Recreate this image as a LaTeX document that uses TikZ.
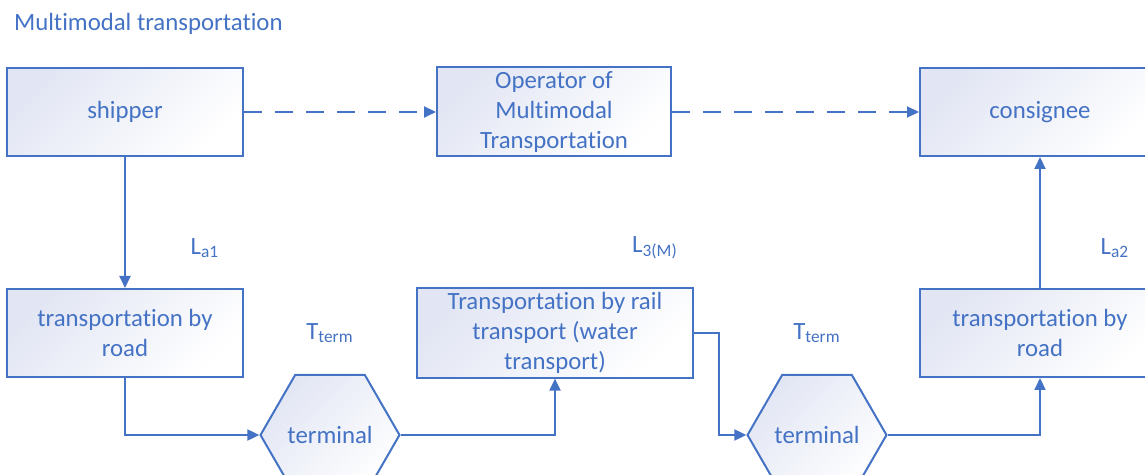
\documentclass[tikz,border=0pt]{standalone}
\usepackage{fontspec}
\setmainfont{Carlito}[Ligatures=NoCommon]
\usetikzlibrary{arrows.meta,shapes.geometric}
\definecolor{mmblue}{HTML}{4472C4}
\definecolor{mmfill}{HTML}{E2E6F4}

\begin{document}
\begin{tikzpicture}[x=0.5pt, y=-0.5pt,
    every node/.style={text=mmblue, font=\fontsize{12.4}{15}\selectfont},
    box/.style={draw=mmblue, line width=1pt, top color=mmfill, bottom color=white, shading angle=45, align=center, minimum height=44pt, inner sep=2pt},
    hexa/.style={draw=mmblue, line width=1pt, regular polygon, regular polygon sides=6, minimum size=68pt, inner sep=0pt, top color=mmfill, bottom color=white, shading angle=45},
    flow/.style={draw=mmblue, line width=1pt, -{Triangle[length=6pt, width=5.5pt]}},
    plan/.style={flow, dash pattern=on 9pt off 6.5pt}]
			\clip (0,0) rectangle (1145,475);

			% Title
			\node[anchor=west] (title) at (7,24) {Multimodal transportation};

			% Parties and operator
			\node[box, minimum width=118pt] (shipper) at (125,112) {shipper};
			\node[box, minimum width=117pt] (operator) at (554,112) {Operator of\\Multimodal\\Transportation};
			\node[box, minimum width=120pt] (consignee) at (1040,112) {consignee};

			% Legs of the transport chain
			\node[box, minimum width=118pt] (road1) at (125,333) {transportation by\\road};
			\node[box, minimum width=138pt] (rail) at (555,333) {Transportation by rail\\transport (water\\transport)};
			\node[box, minimum width=120pt] (road2) at (1040,333) {transportation by\\road};

			% Terminals
			\node[hexa] (term1) at (330,435) {terminal};
			\node[hexa] (term2) at (817,435) {terminal};

			% Time and leg labels
			\node (la1) at (205,248) {L\textsubscript{a1}};
			\node (l3m) at (655,248) {L\textsubscript{3(M)}};
			\node (la2) at (1115,248) {L\textsubscript{a2}};
			\node (tterm1) at (330,333) {T\textsubscript{term}};
			\node (tterm2) at (817,333) {T\textsubscript{term}};

			% Contract flow
			\draw[plan] (shipper) -- (operator);
			\draw[plan] (operator) -- (consignee);

			% Cargo flow
			\draw[flow] (shipper) -- (road1);
			\draw[flow] (road1.south) |- (term1.west);
			\draw[flow] (term1.east) -| (rail.south);
			\draw[flow] (rail.east) -- ++(25,0) |- (term2.west);
			\draw[flow] (term2.east) -| (road2.south);
			\draw[flow] (road2) -- (consignee);
		\end{tikzpicture}
\end{document}
